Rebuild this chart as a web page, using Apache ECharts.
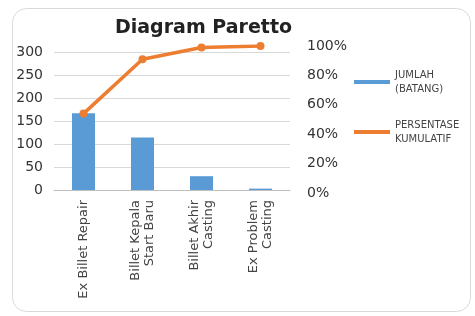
<!DOCTYPE html>
<html>
<head>
<meta charset="utf-8">
<script src="https://cdn.jsdelivr.net/npm/echarts@6/dist/echarts.min.js"></script>
<style>
    html, body { margin: 0; padding: 0; background: #fff; }
    #chart { width: 475px; height: 316px; }
</style>
</head>
<body>
<div id="chart"></div>
<script>
// data
var kategori = ['Ex Billet Repair', 'Billet Kepala\nStart Baru', 'Billet Akhir\nCasting', 'Ex Problem\nCasting'];
var jumlah = [167, 114, 30, 3];
var persenKumulatif = [54, 91, 99, 100];
var kiriTicks = [0, 50, 100, 150, 200, 250, 300];
var kananTicks = [0, 20, 40, 60, 80, 100];

(function () {
    var myChart = echarts.init(document.getElementById('chart'));
    var font = 'DejaVu Sans';
    var option = {
        animation: false,
        textStyle: { fontFamily: font },
        graphic: [{
            type: 'rect',
            shape: { x: 12.5, y: 8.5, width: 458, height: 303, r: 14 },
            style: { fill: 'none', stroke: '#d9d9d9', lineWidth: 1 },
            z: -1
        }],
        title: {
            text: 'Diagram Paretto',
            left: 110,
            top: 14,
            textStyle: { fontFamily: font, fontSize: 19, fontWeight: 'bold', color: '#222' }
        },
        legend: {
            orient: 'vertical',
            left: 349,
            top: 56,
            itemWidth: 36,
            itemHeight: 4,
            itemGap: 8,
            itemTextGap: 7,
            icon: 'rect',
            data: ['JUMLAH\n(BATANG)', 'PERSENTASE\nKUMULATIF'],
            textStyle: {
                fontFamily: font,
                fontSize: 10,
                color: '#444',
                lineHeight: 14,
                padding: [14, 0, 0, 0]
            }
        },
        grid: [
            { left: 54, right: 185, top: 52, bottom: 126 },
            { left: 54, right: 185, top: 46, bottom: 123 }
        ],
        xAxis: [{
            type: 'category',
            gridIndex: 0,
            data: kategori,
            axisTick: { show: false },
            axisLine: { lineStyle: { color: '#bfbfbf' } },
            axisLabel: {
                rotate: 90,
                interval: 0,
                margin: 10,
                fontSize: 13,
                lineHeight: 14,
                color: '#444'
            }
        }, {
            type: 'category',
            gridIndex: 1,
            data: kategori,
            show: false
        }],
        yAxis: [{
            type: 'value',
            gridIndex: 0,
            min: kiriTicks[0],
            max: kiriTicks[kiriTicks.length - 1],
            interval: kiriTicks[1] - kiriTicks[0],
            axisLine: { show: false },
            axisTick: { show: false },
            splitLine: { lineStyle: { color: '#d9d9d9' } },
            axisLabel: { fontSize: 14, color: '#333', margin: 11 }
        }, {
            type: 'value',
            gridIndex: 1,
            position: 'right',
            min: kananTicks[0],
            max: kananTicks[kananTicks.length - 1],
            interval: kananTicks[1] - kananTicks[0],
            axisLine: { show: false },
            axisTick: { show: false },
            splitLine: { show: false },
            axisLabel: { fontSize: 14, color: '#333', margin: 17, formatter: '{value}%' }
        }],
        series: [{
            name: 'JUMLAH\n(BATANG)',
            type: 'bar',
            xAxisIndex: 0,
            yAxisIndex: 0,
            data: jumlah,
            barWidth: '39%',
            itemStyle: { color: '#5b9bd5' }
        }, {
            name: 'PERSENTASE\nKUMULATIF',
            type: 'line',
            xAxisIndex: 1,
            yAxisIndex: 1,
            data: persenKumulatif,
            symbol: 'circle',
            symbolSize: 8,
            lineStyle: { color: '#ed7d31', width: 3.5 },
            itemStyle: { color: '#ed7d31' }
        }]
    };
    myChart.setOption(option);
})();
</script>
</body>
</html>
